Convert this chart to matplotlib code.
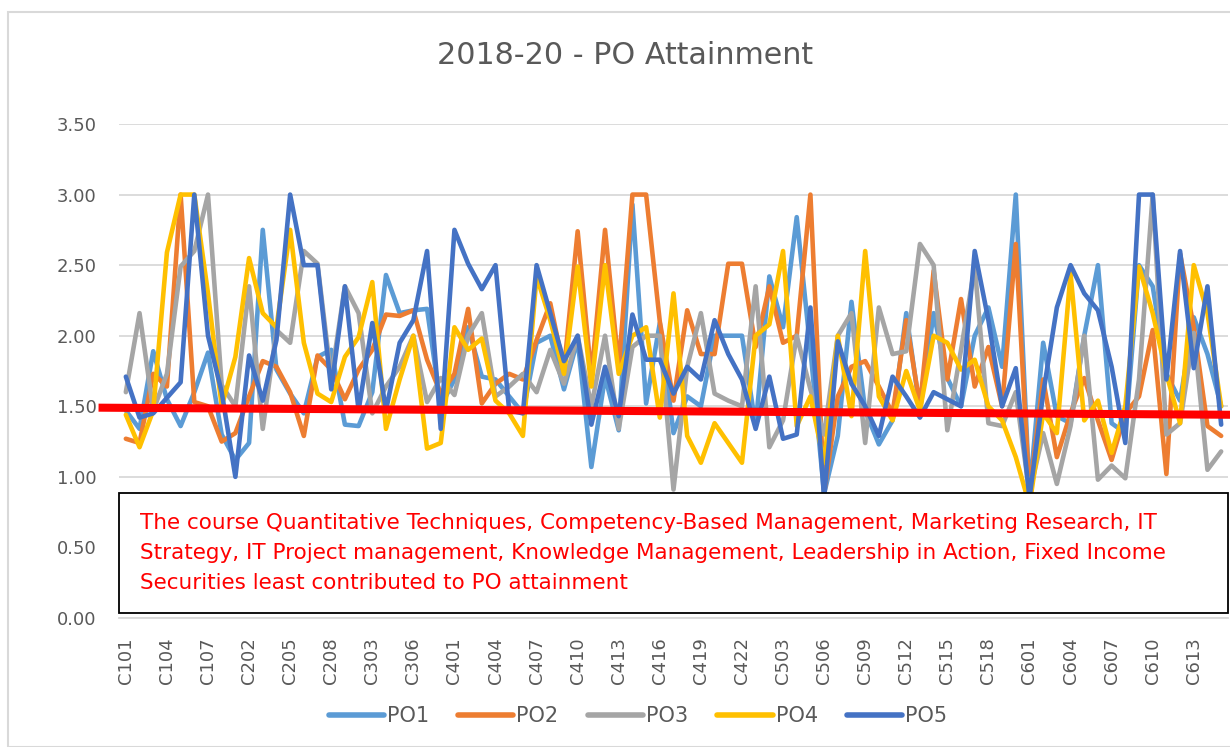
import matplotlib
matplotlib.use("Agg")
import matplotlib.pyplot as plt
from matplotlib.patches import Rectangle

# course codes: number of courses per semester
sem_counts = [8, 8, 8, 22, 20, 15]
courses = ["C%d%02d" % (s + 1, k + 1) for s, n in enumerate(sem_counts) for k in range(n)]

po1 = [1.47, 1.34, 1.89, 1.55, 1.36, 1.60, 1.88, 1.30, 1.12, 1.24,
       2.75, 1.76, 1.59, 1.45, 1.85, 1.90, 1.37, 1.36, 1.60, 2.43,
       2.16, 2.18, 2.19, 1.50, 1.69, 2.06, 1.71, 1.69, 1.57, 1.45,
       1.95, 2.00, 1.62, 1.97, 1.07, 1.71, 1.33, 2.93, 1.52, 2.09,
       1.31, 1.57, 1.50, 2.00, 2.00, 2.00, 1.36, 2.42, 2.06, 2.84,
       1.90, 0.88, 1.29, 2.24, 1.47, 1.23, 1.40, 2.16, 1.47, 2.16,
       1.70, 1.50, 2.00, 2.20, 1.78, 3.00, 0.88, 1.95, 1.43, 1.38,
       2.00, 2.50, 1.38, 1.31, 2.50, 2.35, 1.73, 1.54, 2.13, 1.87,
       1.50]
po2 = [1.27, 1.24, 1.73, 1.64, 3.00, 1.53, 1.50, 1.25, 1.31, 1.57,
       1.82, 1.78, 1.60, 1.29, 1.86, 1.76, 1.55, 1.76, 1.90, 2.15,
       2.14, 2.18, 1.83, 1.59, 1.73, 2.19, 1.52, 1.66, 1.73, 1.69,
       1.97, 2.23, 1.76, 2.74, 1.71, 2.75, 1.78, 3.00, 3.00, 2.10,
       1.54, 2.18, 1.87, 1.87, 2.51, 2.51, 1.92, 2.35, 1.95, 2.00,
       3.00, 0.88, 1.57, 1.78, 1.82, 1.64, 1.45, 2.11, 1.50, 2.46,
       1.69, 2.26, 1.64, 1.92, 1.50, 2.65, 0.88, 1.69, 1.14, 1.45,
       1.70, 1.40, 1.12, 1.45, 1.57, 2.04, 1.02, 2.58, 2.06, 1.36,
       1.29]
po3 = [1.60, 2.16, 1.47, 1.73, 2.49, 2.60, 3.00, 1.65, 1.50, 2.35,
       1.34, 2.04, 1.95, 2.60, 2.51, 1.70, 2.35, 2.16, 1.45, 1.64,
       1.78, 2.00, 1.53, 1.70, 1.58, 2.00, 2.16, 1.57, 1.64, 1.73,
       1.60, 1.90, 1.66, 2.00, 1.50, 2.00, 1.34, 1.92, 2.00, 2.00,
       0.91, 1.78, 2.16, 1.59, 1.54, 1.50, 2.35, 1.21, 1.40, 2.00,
       1.62, 1.30, 2.00, 2.16, 1.24, 2.20, 1.87, 1.89, 2.65, 2.50,
       1.33, 1.90, 2.49, 1.38, 1.36, 1.60, 0.88, 1.31, 0.95, 1.36,
       2.00, 0.98, 1.08, 0.99, 1.69, 3.00, 1.30, 1.38, 2.02, 1.05,
       1.18]
po4 = [1.44, 1.21, 1.47, 2.59, 3.00, 3.00, 2.30, 1.50, 1.85, 2.55,
       2.16, 2.06, 2.75, 1.95, 1.59, 1.53, 1.85, 1.99, 2.38, 1.34,
       1.69, 2.00, 1.20, 1.24, 2.06, 1.90, 1.98, 1.54, 1.45, 1.29,
       2.42, 2.11, 1.73, 2.49, 1.64, 2.50, 1.73, 2.00, 2.06, 1.42,
       2.30, 1.29, 1.10, 1.38, 1.24, 1.10, 2.00, 2.08, 2.60, 1.36,
       1.57, 1.10, 2.00, 1.43, 2.60, 1.57, 1.40, 1.75, 1.47, 2.00,
       1.95, 1.76, 1.83, 1.50, 1.40, 1.14, 0.80, 1.45, 1.31, 2.44,
       1.40, 1.54, 1.17, 1.50, 2.49, 2.16, 1.73, 1.38, 2.50, 2.16,
       1.50]
po5 = [1.71, 1.42, 1.45, 1.56, 1.67, 3.00, 2.00, 1.60, 1.00, 1.86,
       1.54, 1.97, 3.00, 2.50, 2.50, 1.62, 2.35, 1.47, 2.09, 1.47,
       1.95, 2.11, 2.60, 1.34, 2.75, 2.51, 2.33, 2.50, 1.47, 1.45,
       2.50, 2.16, 1.82, 2.00, 1.37, 1.78, 1.43, 2.15, 1.83, 1.83,
       1.59, 1.78, 1.69, 2.11, 1.87, 1.69, 1.34, 1.71, 1.27, 1.30,
       2.20, 0.85, 1.96, 1.66, 1.50, 1.29, 1.71, 1.57, 1.42, 1.60,
       1.55, 1.50, 2.60, 2.11, 1.50, 1.77, 0.85, 1.59, 2.20, 2.50,
       2.30, 2.18, 1.78, 1.24, 3.00, 3.00, 1.69, 2.60, 1.77, 2.35,
       1.37]

series = {"PO1": po1, "PO2": po2, "PO3": po3, "PO4": po4, "PO5": po5}
colors = {"PO1": "#5B9BD5", "PO2": "#ED7D31", "PO3": "#A5A5A5",
          "PO4": "#FFC000", "PO5": "#4472C4"}

# red trend line, start and end value
trend_start = 1.49
trend_end = 1.44

note = ("The course Quantitative Techniques, Competency-Based Management, Marketing Research, IT\n"
        "Strategy, IT Project management, Knowledge Management, Leadership in Action, Fixed Income\n"
        "Securities least contributed to PO attainment")

fig = plt.figure(figsize=(12.3, 7.47), dpi=100)
ax = fig.add_axes([119 / 1230, 1 - 618 / 747, 1109 / 1230, 494 / 747])

x = list(range(len(courses)))
for name, vals in series.items():
    ax.plot(x, vals, color=colors[name], lw=3.3, label=name,
            solid_joinstyle="round", solid_capstyle="round")

# trend line sticks out a little on the left
ax.plot([-1.7, 80.6], [trend_start, trend_end], color="#FF0000", lw=5.8,
        clip_on=False, zorder=4)

ax.set_xlim(-0.5, len(courses) - 0.5)
ax.set_ylim(0, 3.5)
ax.set_yticks([0, 0.5, 1, 1.5, 2, 2.5, 3, 3.5])
ax.set_yticklabels(["%.2f" % v for v in ax.get_yticks()])
ax.set_xticks(x[::3])
ax.set_xticklabels(courses[::3], rotation=90)
ax.tick_params(length=0, labelsize=13, labelcolor="#595959")
ax.tick_params(axis="y", pad=16)
ax.tick_params(axis="x", pad=14)
ax.grid(axis="y", color="#D9D9D9", lw=1.3)
ax.set_axisbelow(True)
for s in ["top", "right", "left"]:
    ax.spines[s].set_visible(False)
ax.spines["bottom"].set_color("#D9D9D9")
ax.spines["bottom"].set_linewidth(1.3)

fig.text(625 / 1230, 1 - 55 / 747, "2018-20 - PO Attainment", ha="center",
         va="center", fontsize=21.7, color="#595959")

# note box over the lower part of the plot
fig.add_artist(Rectangle((119 / 1230, 1 - 613 / 747), 1109 / 1230, 120 / 747,
                         transform=fig.transFigure, facecolor="white",
                         edgecolor="black", lw=1.3, zorder=5))
fig.text(140 / 1230, 1 - 553 / 747, note, ha="left", va="center", fontsize=15.5,
         color="#FF0000", linespacing=1.6, zorder=6)

leg = fig.legend(loc="center", bbox_to_anchor=(638 / 1230, 1 - 716 / 747), ncol=5,
                 frameon=False, fontsize=15, handlelength=2.65, handletextpad=0.15,
                 columnspacing=1.4)
for t in leg.get_texts():
    t.set_color("#595959")
for h in leg.get_lines():
    h.set_linewidth(4)

# light border round the chart
fig.add_artist(Rectangle((8 / 1230, 0), 1230, 1 - 12 / 747, transform=fig.transFigure,
                         facecolor="none", edgecolor="#D9D9D9", lw=1.5))

fig.savefig("out.png", dpi=100)
